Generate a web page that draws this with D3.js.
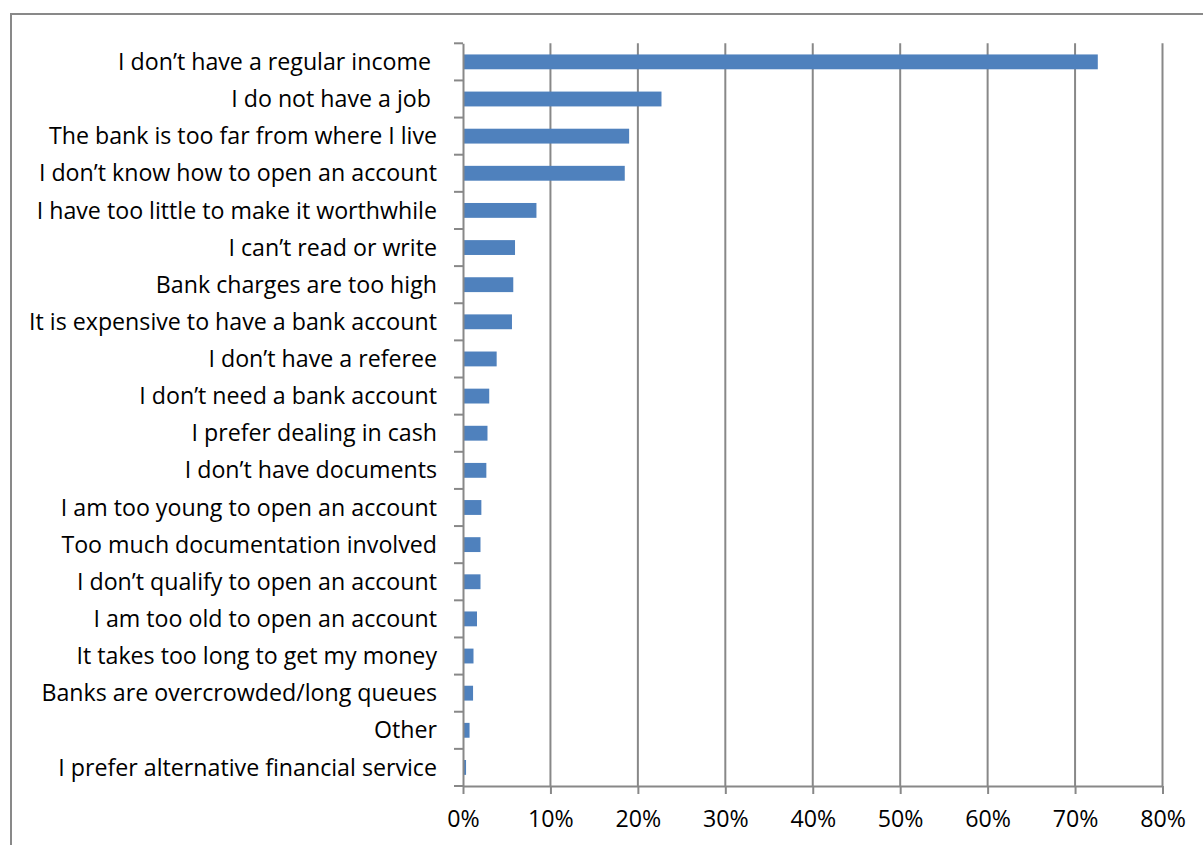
<!DOCTYPE html>
<html>
<head>
<meta charset="utf-8">
<script src="https://cdn.jsdelivr.net/npm/d3@7"></script>
<style>
  html, body { margin: 0; padding: 0; background: #fff; }
  svg { display: block; }
  text { font-family: "Open Sans", "Noto Sans", sans-serif; fill: #000; }
</style>
</head>
<body>
<svg id="chart" width="1203" height="845"></svg>
<script>
// Reasons given for not having a bank account (share of respondents)
const reasons = [
  "I don\u2019t have a regular income ",
  "I do not have a job ",
  "The bank is too far from where I live",
  "I don\u2019t know how to open an account",
  "I have too little to make it worthwhile",
  "I can\u2019t read or write",
  "Bank charges are too high",
  "It is expensive to have a bank account",
  "I don\u2019t have a referee",
  "I don\u2019t need a bank account",
  "I prefer dealing in cash",
  "I don\u2019t have documents",
  "I am too young to open an account",
  "Too much documentation involved",
  "I don\u2019t qualify to open an account",
  "I am too old to open an account",
  "It takes too long to get my money",
  "Banks are overcrowded/long queues",
  "Other",
  "I prefer alternative financial service"
];
const shares = [
  0.726, 0.227, 0.190, 0.185, 0.084, 0.0595, 0.0575, 0.056, 0.0385, 0.030,
  0.028, 0.0267, 0.021, 0.020, 0.020, 0.016, 0.012, 0.0115, 0.0075, 0.0035
];
const xTicks = [0, 0.1, 0.2, 0.3, 0.4, 0.5, 0.6, 0.7, 0.8];

const svg = d3.select("#chart");
const fontSize = 23.2;

// outer chart frame (runs past the right and bottom edges)
svg.append("rect")
  .attr("x", 11).attr("y", 14)
  .attr("width", 1260).attr("height", 900)
  .attr("fill", "none").attr("stroke", "#898989").attr("stroke-width", 2);

const plotLeft = 463, plotRight = 1162.5, plotTop = 43.3, plotBottom = 786;

const x = d3.scaleLinear().domain([0, 0.8]).range([plotLeft, plotRight]);
const y = d3.scaleBand().domain(d3.range(reasons.length)).range([plotTop, plotBottom]).paddingInner(0.6).paddingOuter(0.3);

// vertical gridlines
svg.append("g")
  .selectAll("line")
  .data(xTicks.slice(1))
  .join("line")
  .attr("x1", d => x(d)).attr("x2", d => x(d))
  .attr("y1", plotTop).attr("y2", plotBottom)
  .attr("stroke", "#888").attr("stroke-width", 2);

// bars
svg.append("g")
  .selectAll("rect")
  .data(shares)
  .join("rect")
  .attr("x", x(0))
  .attr("y", (d, i) => y(i))
  .attr("width", d => x(d) - x(0))
  .attr("height", y.bandwidth())
  .attr("fill", "#4f81bd");

// category axis
const yCat = d3.scaleBand().domain(d3.range(reasons.length)).range([plotTop, plotBottom]);
const yAxis = svg.append("g")
  .attr("transform", `translate(${plotLeft},0)`)
  .call(d3.axisLeft(yCat).tickSizeOuter(0).tickSize(0).tickFormat(i => reasons[i]).tickPadding(26));
yAxis.select(".domain").attr("stroke", "#888").attr("stroke-width", 2);
yAxis.selectAll("text")
  .attr("font-size", fontSize)
  .attr("dy", "0.35em")
  .style("white-space", "pre")
  .attr("xml:space", "preserve");

// category boundary tick marks
svg.append("g")
  .selectAll("line")
  .data(d3.range(reasons.length + 1))
  .join("line")
  .attr("x1", plotLeft - 9).attr("x2", plotLeft)
  .attr("y1", i => plotTop + i * yCat.step()).attr("y2", i => plotTop + i * yCat.step())
  .attr("stroke", "#888").attr("stroke-width", 2);

// value axis
const xAxis = svg.append("g")
  .attr("transform", `translate(0,${plotBottom})`)
  .call(d3.axisBottom(x).tickValues(xTicks).tickFormat(d3.format(".0%")).tickSize(8).tickSizeOuter(0).tickPadding(16.5));
xAxis.select(".domain").attr("stroke", "#888").attr("stroke-width", 2);
xAxis.selectAll(".tick line").attr("stroke", "#888").attr("stroke-width", 2);
xAxis.selectAll("text").attr("font-size", fontSize);
</script>
</body>
</html>
